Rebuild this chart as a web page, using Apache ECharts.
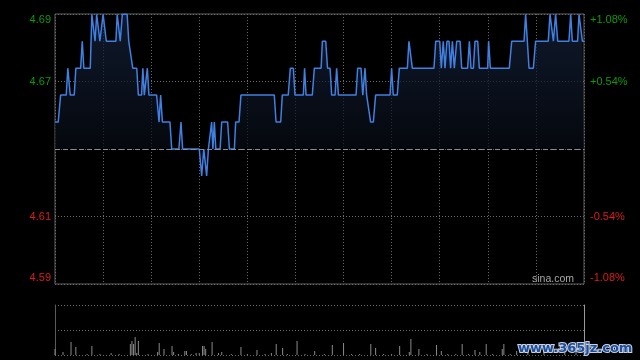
<!DOCTYPE html>
<html><head><meta charset="utf-8">
<script src="https://cdn.jsdelivr.net/npm/echarts@6/dist/echarts.min.js"></script>
<style>html,body{margin:0;padding:0;background:#000;}#c{width:640px;height:360px;}</style>
</head><body><div id="c"></div>
<script>
const prevClose = 4.64;
const pctTicks = [-1.08, -0.54, 0, 0.54, 1.08];
const minutes = [0,2,3.5,7,8,9.5,12,13,16,17,18,22,23,24,25,26,27,28,29,30,31,32,38,38.8,40.7,42,45,46,47,48.5,51,52,54,54.8,55.7,56.7,57.6,58.6,63.4,64.9,65.9,67,71.7,72.8,77.3,78.6,79.6,90,91.5,92.8,94.6,95.7,96.8,97.7,98.5,99.4,100.3,103,104,107.7,108.8,111.9,112.7,114.8,116,136.8,137.9,140.8,141.8,145.5,146.8,148.7,149.7,154.9,155.7,156.6,160.5,161.8,166,166.8,168.9,170,171.6,172.6,174.7,175.7,176.8,187.8,188.8,190.9,192,193.4,194.4,195.5,196.9,198.6,200,209,210,211,213.5,214.8,219.8,220.8,221.9,222.9,236.4,237.5,240,241,242.2,243.3,244.5,245.8,246.8,247.9,249.1,250.6,252.7,253.7,257.4,258.5,259.5,261,262,263.7,264.7,269.9,270.5,271.6,283.4,284.9,292.6,293.6,295.7,298.4,299.8,307.7,308.8,309.6,310.9,312.3,313.6,320.6,321.7,322.7,326,326.9,327.7,329,330];
const prices = [4.65,4.65,4.66,4.66,4.67,4.66,4.66,4.67,4.67,4.68,4.67,4.67,4.69,4.69,4.68,4.69,4.69,4.68,4.68,4.69,4.69,4.68,4.68,4.69,4.68,4.69,4.69,4.68,4.68,4.67,4.67,4.66,4.66,4.67,4.66,4.66,4.67,4.66,4.66,4.65,4.66,4.65,4.65,4.64,4.64,4.65,4.64,4.64,4.63,4.64,4.63,4.64,4.64,4.65,4.64,4.65,4.64,4.64,4.65,4.65,4.64,4.64,4.65,4.65,4.66,4.66,4.65,4.65,4.66,4.66,4.67,4.67,4.66,4.66,4.67,4.66,4.66,4.67,4.67,4.68,4.68,4.67,4.67,4.66,4.66,4.67,4.66,4.66,4.67,4.67,4.66,4.67,4.66,4.66,4.65,4.65,4.66,4.66,4.67,4.66,4.66,4.67,4.67,4.68,4.68,4.67,4.67,4.68,4.68,4.67,4.68,4.67,4.68,4.68,4.67,4.68,4.67,4.68,4.68,4.67,4.67,4.68,4.67,4.67,4.68,4.68,4.67,4.67,4.68,4.67,4.67,4.68,4.68,4.69,4.67,4.67,4.68,4.68,4.69,4.69,4.68,4.69,4.68,4.68,4.69,4.68,4.68,4.69,4.69,4.68,4.68];
const volMinutes = [0,5,10,13,23,35,47,48,49,50,51,52,64,65,68,73,74,81,82,88,90,92,93,94,98,102,104,116,126,135,138,142,151,162,173,180,197,200,215,221,222,227,238,241,254,262,265,269,279,280,288,295,305,318,325,20,28,40,58,77,85,110,120,131,145,156,168,185,190,205,210,232,245,250,258,273,284];
const volumes = [12,6,26,16,18,4,22,28,22,36,4,28,6,24,12,18,6,8,8,4,4,18,18,12,26,4,6,16,10,4,22,14,28,8,20,24,22,14,18,6,32,12,20,8,22,10,6,22,12,22,8,10,14,8,12,2,2,2,2,2,2,2,2,2,2,2,2,2,2,2,2,2,2,2,2,2,2];

const pct = prices.map(p => (p / prevClose - 1) * 100);
const lineData = minutes.map((t, i) => [t, pct[i]]);
const volData = volMinutes.map((t, i) => [t, volumes[i]]);
const yMin = pctTicks[0], yMax = pctTicks[pctTicks.length - 1], yStep = pctTicks[1] - pctTicks[0];
const FONT = 'Liberation Sans, Arial, sans-serif';
const GREEN = '#0c9a0c', RED = '#dd1c1c';

function richKey(v, base) {
  if (Math.abs(v - yMax) < 1e-6) return base + 't';
  if (Math.abs(v - yMin) < 1e-6) return base + 'b';
  return base;
}
const rich = {
  gt: {color: GREEN, fontSize: 11, fontFamily: FONT, padding: [12, 0, 0, 0]},
  g: {color: GREEN, fontSize: 11, fontFamily: FONT},
  r: {color: RED, fontSize: 11, fontFamily: FONT},
  rb: {color: RED, fontSize: 11, fontFamily: FONT, padding: [0, 0, 12, 0]}
};

const chart = echarts.init(document.getElementById('c'), null, {renderer: 'canvas'});
chart.setOption({
  backgroundColor: '#000',
  animation: false,
  grid: [
    {left: 55, right: 56, top: 14, bottom: 76, show: true, borderColor: '#606060', borderWidth: 1, backgroundColor: 'transparent'},
    {left: 55, right: 56, top: 305, bottom: 5}
  ],
  xAxis: [
    {gridIndex: 0, type: 'value', min: 0, max: 330, interval: 30,
     axisLine: {show: false}, axisTick: {show: false}, axisLabel: {show: false},
     splitLine: {show: true, lineStyle: {color: '#6a6a6a', type: [1, 2], width: 1}}},
    {gridIndex: 1, type: 'value', min: 0, max: 330,
     axisLine: {show: false}, axisTick: {show: false}, axisLabel: {show: false}, splitLine: {show: false}}
  ],
  yAxis: [
    {gridIndex: 0, type: 'value', position: 'left', min: yMin, max: yMax, interval: yStep,
     axisLine: {show: false}, axisTick: {show: false},
     splitLine: {show: true, lineStyle: {color: '#6a6a6a', type: [1, 2], width: 1}},
     axisLabel: {margin: 4, rich: rich,
       formatter: v => {
         if (Math.abs(v) < 1e-6) return '';
         const p = (prevClose * (1 + v / 100)).toFixed(2);
         return '{' + richKey(v, v > 0 ? 'g' : 'r') + '|' + p + '}';
       }}},
    {gridIndex: 0, type: 'value', position: 'right', min: yMin, max: yMax, interval: yStep,
     axisLine: {show: false}, axisTick: {show: false}, splitLine: {show: false},
     axisLabel: {margin: 6, rich: rich,
       formatter: v => {
         if (Math.abs(v) < 1e-6) return '';
         const s = (v > 0 ? '+' : '') + v.toFixed(2) + '%';
         return '{' + richKey(v, v > 0 ? 'g' : 'r') + '|' + s + '}';
       }}},
    {gridIndex: 1, type: 'value', position: 'left', min: 0, max: 100, interval: 50,
     axisLine: {show: true, lineStyle: {color: '#5a5a5a', width: 1}}, axisTick: {show: false}, axisLabel: {show: false},
     splitLine: {show: true, lineStyle: {color: '#6a6a6a', type: [1, 2], width: 1}}},
    {gridIndex: 1, type: 'value', position: 'right', min: 0, max: 100, interval: 50,
     axisLine: {show: true, lineStyle: {color: '#9a9a9a', width: 1}}, axisTick: {show: false}, axisLabel: {show: false},
     splitLine: {show: false}}
  ],
  series: [
    {type: 'line', xAxisIndex: 0, yAxisIndex: 0, data: lineData, symbol: 'none', smooth: false,
     lineStyle: {color: '#3f80e2', width: 1.5},
     areaStyle: {color: new echarts.graphic.LinearGradient(0, 0, 0, 1, [
       {offset: 0, color: '#16243f'}, {offset: 1, color: '#04060a'}])},
     markLine: {silent: true, symbol: 'none', label: {show: false},
       lineStyle: {color: '#8a8f96', type: [5, 3], width: 1},
       data: [{yAxis: 0}]},
     z: 3},
    {type: 'bar', xAxisIndex: 1, yAxisIndex: 2, data: volData, barWidth: 1,
     itemStyle: {color: '#8a8a8a'}, barGap: '-100%'}
  ],
  graphic: [
    {type: 'text', left: 532, top: 274, style: {text: 'sina.com', fill: '#a8a8a8', font: '10.5px ' + FONT}, z: 10},
    {type: 'text', left: 517, top: 341, style: {text: 'www.365jz.com', fill: '#1d4f9e', stroke: '#c9d2e2', lineWidth: 2, font: 'bold 13px "DejaVu Sans", sans-serif'}, z: 10}
  ]
});
</script>
</body></html>
